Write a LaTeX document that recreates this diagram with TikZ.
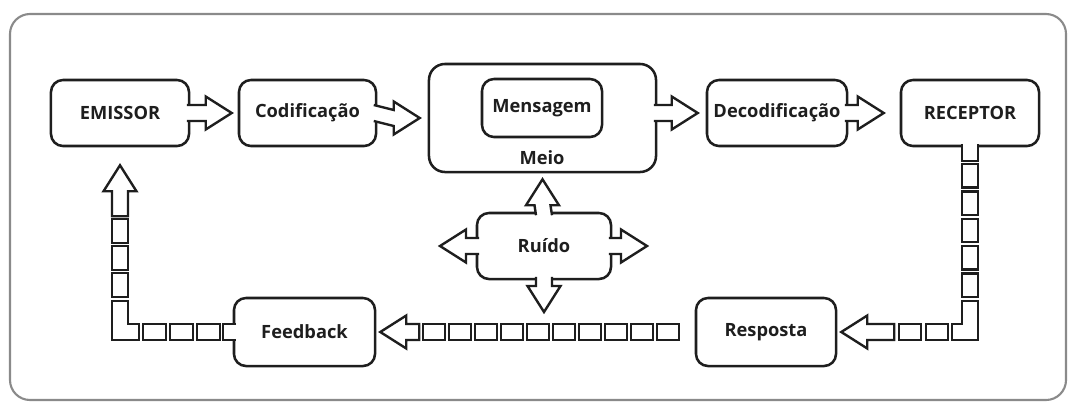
\documentclass[tikz,border=0pt]{standalone}
\usepackage{fontspec}
\setmainfont{Open Sans}
\usetikzlibrary{calc}
\definecolor{ink}{HTML}{1E1E1E}
\definecolor{edge}{HTML}{8A8A8A}

% wide arrow: from, to, direction (ux,uy), gap before target
\newcommand{\fatarrow}[5]{%
  \draw[fatline] ($(#1)+({-3.5*(#3)-8*(#4)},{-3.5*(#4)+8*(#3)})$)
    -- ($(#2)+({-(#5+26)*(#3)-8*(#4)},{-(#5+26)*(#4)+8*(#3)})$)
    -- ($(#2)+({-(#5+26)*(#3)-16.5*(#4)},{-(#5+26)*(#4)+16.5*(#3)})$)
    -- ($(#2)+({-(#5)*(#3)},{-(#5)*(#4)})$)
    -- ($(#2)+({-(#5+26)*(#3)+16.5*(#4)},{-(#5+26)*(#4)-16.5*(#3)})$)
    -- ($(#2)+({-(#5+26)*(#3)+8*(#4)},{-(#5+26)*(#4)-8*(#3)})$)
    -- ($(#1)+({-3.5*(#3)+8*(#4)},{-3.5*(#4)-8*(#3)})$);}
% head of a chain: target, direction (ux,uy), gap, shaft length
\newcommand{\chainhead}[5]{%
  \draw[fatline] ($(#1)+({-(#4+26+#5)*(#2)-8*(#3)},{-(#4+26+#5)*(#3)+8*(#2)})$)
    -- ($(#1)+({-(#4+26)*(#2)-8*(#3)},{-(#4+26)*(#3)+8*(#2)})$)
    -- ($(#1)+({-(#4+26)*(#2)-16.5*(#3)},{-(#4+26)*(#3)+16.5*(#2)})$)
    -- ($(#1)+({-(#4)*(#2)},{-(#4)*(#3)})$)
    -- ($(#1)+({-(#4+26)*(#2)+16.5*(#3)},{-(#4+26)*(#3)-16.5*(#2)})$)
    -- ($(#1)+({-(#4+26)*(#2)+8*(#3)},{-(#4+26)*(#3)-8*(#2)})$)
    -- ($(#1)+({-(#4+26+#5)*(#2)+8*(#3)},{-(#4+26+#5)*(#3)-8*(#2)})$) -- cycle;}

\begin{document}
\begin{tikzpicture}[x=0.025cm, y=-0.025cm,
    box/.style={draw=ink, line width=1.8pt, fill=white, rounded corners=0.3cm,
      minimum height=1.65cm, text=ink, font=\fontsize{13}{15}\selectfont\bfseries},
    fatline/.style={draw=ink, line width=1.7pt, fill=white, line join=miter},
    cell/.style={draw=ink, line width=1.6pt, fill=white}]
  \useasboundingbox (0,0) rectangle (1069,403);
  \draw[edge, line width=1.5pt, rounded corners=0.5cm] (10,14) rectangle (1066,400);

  % top row
  \node[box, minimum width=3.45cm] (emissor) at (120,113) {EMISSOR};
  \node[box, minimum width=3.425cm] (cod) at (307.5,113) {Codificação};
  \node[box, minimum width=5.675cm, minimum height=2.7cm, rounded corners=0.4cm] (meio) at (542.5,118) {};
  \node[box, minimum width=3cm, minimum height=1.45cm] (msg) at (542,108) {Mensagem};
  \node[text=ink, font=\fontsize{13}{15}\selectfont\bfseries] (meiotxt) at (542,158) {Meio};
  \node[box, minimum width=3.5cm] (dec) at (777,113) {Decodificação};
  \node[box, minimum width=3.45cm] (rec) at (970,113) {RECEPTOR};

  % noise and bottom row
  \node[box, minimum width=3.35cm] (ruido) at (544,246) {Ruído};
  \node[box, minimum width=3.525cm, minimum height=1.7cm] (feedback) at (304.5,332) {Feedback};
  \node[box, minimum width=3.5cm, minimum height=1.7cm] (resposta) at (766,332) {Resposta};

  \coordinate (meioout) at (meio.east |- dec.west);
  \coordinate (noiseL) at (440,246);
  \coordinate (noiseR) at (647,246);
  \coordinate (noiseD) at (544,312);
  \coordinate (rcorner) at (rec.south |- resposta.east);
  \coordinate (lcorner) at (emissor.south |- feedback.west);

  \fatarrow{emissor.east}{cod.west}{1}{0}{6}
  \fatarrow{cod.east}{meio.west}{1}{0}{8}
  \fatarrow{meioout}{dec.west}{1}{0}{8}
  \fatarrow{dec.east}{rec.west}{1}{0}{16}
  \fatarrow{ruido.north}{meio.south}{0}{-1}{6}
  \fatarrow{ruido.south}{noiseD}{0}{1}{0}
  \fatarrow{ruido.west}{noiseL}{-1}{0}{0}
  \fatarrow{ruido.east}{noiseR}{1}{0}{0}

  % receptor -> resposta
  \draw[fatline] ($(rec.south)+(-8,-3.5)$) -- ($(rec.south)+(-8,14)$)
    -- ($(rec.south)+(8,14)$) -- ($(rec.south)+(8,-3.5)$);
  \foreach \k in {0,...,4}
    \draw[cell] ($(rcorner)+(-8,{-168+27.4*\k})$) rectangle +(16,23.4);
  \draw[cell] ($(rcorner)+(-8,-31)$) -- ($(rcorner)+(8,-31)$) -- ($(rcorner)+(8,8)$)
    -- ($(rcorner)+(-18,8)$) -- ($(rcorner)+(-18,-8)$) -- ($(rcorner)+(-8,-8)$) -- cycle;
  \foreach \k in {0,1}
    \draw[cell] ($(rcorner)+({-44-27*\k},-8)$) rectangle +(22,16);
  \chainhead{resposta.east}{-1}{0}{4}{27}

  % resposta -> feedback
  \foreach \k in {0,...,9}
    \draw[cell] ($(feedback.east)+({47+26*\k},-8)$) rectangle +(22,16);
  \chainhead{feedback.east}{-1}{0}{4}{13}

  % feedback -> emissor
  \draw[fatline] ($(feedback.west)+(3.5,-8)$) -- ($(feedback.west)+(-10,-8)$)
    -- ($(feedback.west)+(-10,8)$) -- ($(feedback.west)+(3.5,8)$);
  \foreach \k in {0,1,2}
    \draw[cell] ($(lcorner)+({23+27*\k},-8)$) rectangle +(23,16);
  \draw[cell] ($(lcorner)+(-8,-31)$) -- ($(lcorner)+(8,-31)$) -- ($(lcorner)+(8,-8)$)
    -- ($(lcorner)+(19,-8)$) -- ($(lcorner)+(19,8)$) -- ($(lcorner)+(-8,8)$) -- cycle;
  \foreach \k in {0,1,2}
    \draw[cell] ($(lcorner)+(-8,{-59-27*\k})$) rectangle +(16,24);
  \chainhead{emissor.south}{0}{-1}{18}{25}
\end{tikzpicture}
\end{document}
